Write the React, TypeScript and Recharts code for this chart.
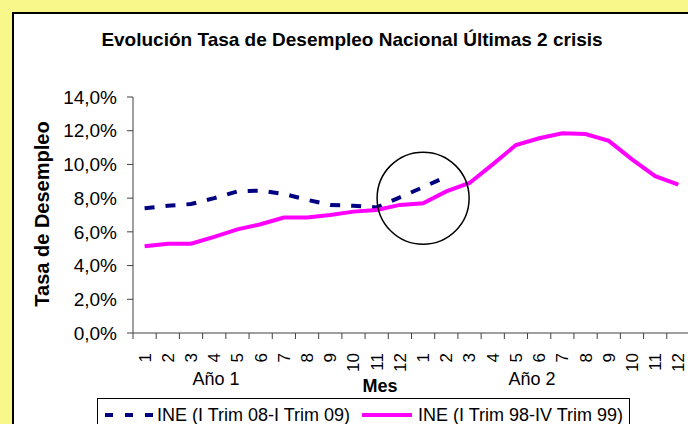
import React from 'react';
import { LineChart, Line, XAxis, YAxis, Legend, ReferenceDot, Customized } from 'recharts';

const months = ['1', '2', '3', '4', '5', '6', '7', '8', '9', '10', '11', '12', '1', '2', '3', '4', '5', '6', '7', '8', '9', '10', '11', '12'];
const ine2008 = [7.4, 7.55, 7.65, 8.0, 8.4, 8.45, 8.25, 7.9, 7.6, 7.55, 7.45, 8.05, 8.65, 9.27];
const ine1998 = [5.15, 5.3, 5.3, 5.7, 6.15, 6.45, 6.85, 6.85, 7.0, 7.2, 7.3, 7.6, 7.7, 8.4, 8.9, 10.0, 11.15, 11.55, 11.85, 11.8, 11.4, 10.3, 9.3, 8.8];
const yTicks = [0, 2, 4, 6, 8, 10, 12, 14];
const xTicks = months.map((_, i) => i).concat([months.length]);
const seriesNames = ['INE (I Trim 08-I Trim 09)', 'INE (I Trim 98-IV Trim 99)'];

const data = months.map((m, i) => ({
  x: i + 0.5,
  mes: m,
  ine08: i < ine2008.length ? ine2008[i] : null,
  ine98: ine1998[i],
}));

const FONT = '"Liberation Sans", Arial, sans-serif';

const MonthTick = (props: any) => {
  const { x, y, payload, width } = props;
  const idx = payload.value;
  if (idx >= months.length) return null;
  const step = (width || 557) / months.length;
  const cx = x + step / 2;
  const ty = y + 12;
  return (
    <text x={cx} y={ty} dy="0.35em" textAnchor="end" transform={`rotate(-90, ${cx}, ${ty})`} fontSize={17} fill="#000" fontFamily={FONT}>
      {months[idx]}
    </text>
  );
};

const Annotations = () => (
  <g fontFamily={FONT} fill="#000">
    <text x={352} y={46} textAnchor="middle" fontSize={19} fontWeight="bold">
      Evolución Tasa de Desempleo Nacional Últimas 2 crisis
    </text>
    <text x={49} y={214} textAnchor="middle" fontSize={20} fontWeight="bold" transform="rotate(-90, 49, 214)">
      Tasa de Desempleo
    </text>
    <text x={216} y={385} textAnchor="middle" fontSize={18}>Año 1</text>
    <text x={380} y={392} textAnchor="middle" fontSize={18} fontWeight="bold">Mes</text>
    <text x={532} y={385} textAnchor="middle" fontSize={18}>Año 2</text>
  </g>
);

const LegendBox = () => (
  <div
    style={{
      display: 'flex',
      alignItems: 'center',
      border: '1px solid #000',
      background: '#fff',
      height: 32,
      paddingLeft: 7,
      paddingTop: 2,
      boxSizing: 'border-box',
      fontFamily: FONT,
      fontSize: 18,
      color: '#000',
      whiteSpace: 'nowrap',
    }}
  >
    <svg width={48} height={10} style={{ marginRight: 4 }}>
      <line x1={0} y1={5} x2={48} y2={5} stroke="#000080" strokeWidth={4} strokeDasharray="8 12" />
    </svg>
    <span>{seriesNames[0]}</span>
    <svg width={50} height={10} style={{ marginLeft: 12, marginRight: 6 }}>
      <line x1={0} y1={5} x2={50} y2={5} stroke="#FF00FF" strokeWidth={4} />
    </svg>
    <span style={{ paddingRight: 6 }}>{seriesNames[1]}</span>
  </div>
);

export default function App() {
  return (
    <div style={{ position: 'fixed', left: 0, top: 0, width: 688, height: 424, overflow: 'hidden', background: '#F7F78A' }}>
      <div
        style={{
          position: 'absolute',
          left: 12,
          top: 12,
          width: 720,
          height: 440,
          background: '#fff',
          border: '2px solid #000',
        }}
      />
      <div style={{ position: 'absolute', left: 0, top: 0 }}>
        <LineChart width={700} height={424} data={data} margin={{ top: 97, right: 10, left: 0, bottom: 0 }}>
          <XAxis
            type="number"
            dataKey="x"
            domain={[0, months.length]}
            ticks={xTicks}
            interval={0}
            height={91}
            tickSize={6}
            tickMargin={2}
            stroke="#404040"
            tick={<MonthTick />}
          />
          <YAxis
            type="number"
            domain={[0, 14]}
            ticks={yTicks}
            width={133}
            tickSize={6}
            tickMargin={10}
            stroke="#404040"
            tick={{ fill: '#000', fontSize: 19, fontFamily: FONT }}
            tickFormatter={(v: number) => v.toFixed(1).replace('.', ',') + '%'}
          />
          <Line
            type="linear"
            dataKey="ine08"
            name={seriesNames[0]}
            stroke="#000080"
            strokeWidth={4}
            strokeDasharray="10 11"
            dot={false}
            connectNulls={false}
            isAnimationActive={false}
          />
          <Line
            type="linear"
            dataKey="ine98"
            name={seriesNames[1]}
            stroke="#FF00FF"
            strokeWidth={4}
            dot={false}
            isAnimationActive={false}
          />
          <ReferenceDot x={12.5} y={8.0} r={46} fill="none" stroke="#000" strokeWidth={1.5} />
          <Customized component={Annotations} />
          <Legend
            verticalAlign="middle"
            layout="horizontal"
            wrapperStyle={{ left: 97, top: 398, width: 'auto' }}
            content={() => <LegendBox />}
          />
        </LineChart>
      </div>
    </div>
  );
}
